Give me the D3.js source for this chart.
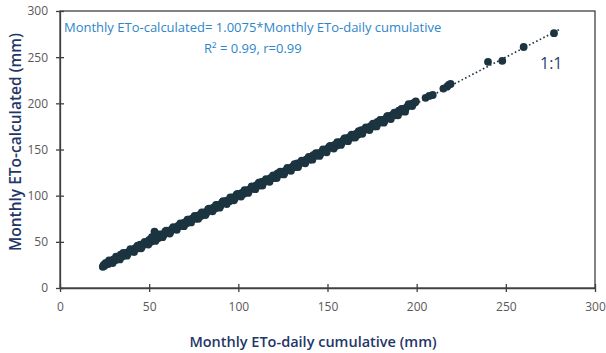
<!DOCTYPE html>
<html>
<head>
<meta charset="utf-8">
<script src="https://cdn.jsdelivr.net/npm/d3@7"></script>
<style>
  html, body { margin: 0; padding: 0; background: #fff; }
  svg { display: block; font-family: "Open Sans", sans-serif; }
</style>
</head>
<body>
<svg id="chart" width="606" height="353"></svg>
<script>
// data: [daily cumulative, calculated]
const points = [
  [24,23],[24.5,25],[25,24],[26,27],[27,26],[28,29],[29,28],[30,31],[31,30],[32,33],[33,32],[34,36],[35,34],
  [36,37],[37,38],[38,37],[39,40],[40,41],[41,40],[42,43],[43,44],[44,43],[45,47],[46,45],[47,48],[48,49],
  [49,48],[50,52],[51,50],[52,53],[53,61],[54,55],[55,54],[56,57],[57,58],[58,57],[59,61],[60,60],[61,62],
  [62,61],[63,64],[64,65],[65,64],[66,67],[67,68],[68,67],[69,70],[70,71],[71,70],[72,74],[73,73],[74,75],
  [75,76],[76,75],[77,78],[78,79],[79,78],[80,81],[81,82],[82,81],[83,85],[84,84],[85,86],[86,87],[87,86],
  [88,89],[89,90],[90,89],[91,93],[92,92],[93,94],[94,95],[95,94],[96,97],[97,98],[98,97],[99,101],[100,100],
  [101,102],[102,103],[103,102],[104,105],[105,106],[106,105],[107,108],[108,109],[109,108],[110,111],[111,112],
  [112,111],[113,115],[114,114],[115,116],[116,117],[117,116],[118,119],[119,120],[120,119],[121,122],[122,124],
  [123,123],[124,125],[125,126],[126,125],[127,128],[128,129],[129,128],[130,131],[131,132],[132,131],[133,135],
  [134,134],[135,136],[136,137],[137,136],[138,139],[139,140],[140,139],[141,142],[142,144],[143,143],[144,145],
  [145,146],[146,145],[147,148],[148,149],[149,148],[150,151],[151,153],[152,152],[153,154],[154,155],[155,154],
  [156,157],[157,158],[158,157],[159,160],[160,162],[161,161],[162,163],[163,164],[164,163],[165,166],[166,167],
  [167,166],[168,169],[169,171],[170,170],[171,172],[172,173],[173,172],[174,175],[175,176],[176,175],[177,178],
  [178,180],[179,179],[180,181],[181,182],[182,181],[183,184],[184,186],[185,185],[186,187],[187,188],[188,187],
  [189,190],[190,192],[191,191],[192,193],[193,194],[194,195],[195,197],[196,198],[197,199],[198,200],[199,201],
  [205,206],[207,208],[209,209],[215,216],[217,218],[218,220],[219,221],[240,245],[248,246],[260,261],[277,276]
];
// second pass of points spread round the line (the band is wide)
const pointsSpread = [
  [25.5,27],[27.5,30],[29.5,27],[31.5,34],[33.5,31],[35.5,38],[37.5,35],[39.5,42],[41.5,39],[43.5,46],[45.5,43],
  [47.5,50],[49.5,47],[51.5,55],[53.5,51],[55.5,58],[57.5,55],[59.5,62],[61.5,59],[63.5,66],[65.5,63],[67.5,70],
  [69.5,67],[71.5,74],[73.5,71],[75.5,78],[77.5,75],[79.5,82],[81.5,79],[83.5,86],[85.5,83],[87.5,90],[89.5,87],
  [91.5,94],[93.5,91],[95.5,98],[97.5,95],[99.5,102],[101.5,99],[103.5,106],[105.5,103],[107.5,110],[109.5,107],
  [111.5,114],[113.5,111],[115.5,118],[117.5,115],[119.5,122],[121.5,119],[123.5,126],[125.5,123],[127.5,130],
  [129.5,127],[131.5,134],[133.5,131],[135.5,138],[137.5,135],[139.5,142],[141.5,139],[143.5,146],[145.5,143],
  [147.5,150],[149.5,147],[151.5,154],[153.5,151],[155.5,158],[157.5,155],[159.5,162],[161.5,159],[163.5,166],
  [165.5,163],[167.5,170],[169.5,167],[171.5,174],[173.5,171],[175.5,178],[177.5,175],[179.5,182],[181.5,179],
  [183.5,186],[185.5,183],[187.5,190],[189.5,187],[191.5,194],[193.5,191],[195.5,199],[197.5,197],[199.5,202]
];
const xTicks = [0, 50, 100, 150, 200, 250, 300];
const yTicks = [0, 50, 100, 150, 200, 250, 300];
const fitLine = [[24, 24], [280, 280]];

const svg = d3.select('#chart');
const margin = { left: 60, right: 11, top: 11, bottom: 65 };
const W = 606, H = 353;

const x = d3.scaleLinear().domain([0, 300]).range([margin.left, W - margin.right]);
const y = d3.scaleLinear().domain([0, 300]).range([H - margin.bottom, margin.top]);

// frame
svg.append('rect')
  .attr('x', x(0)).attr('y', y(300))
  .attr('width', x(300) - x(0)).attr('height', y(0) - y(300))
  .attr('fill', 'none').attr('stroke', '#404040').attr('stroke-width', 1.3);

// axes (ticks cross the axis line)
const xAxis = svg.append('g')
  .attr('transform', `translate(0,${y(0)})`)
  .call(d3.axisBottom(x).tickValues(xTicks).tickSize(0).tickPadding(14));
xAxis.selectAll('.tick').append('line').attr('y1', -4).attr('y2', 4);

const yAxis = svg.append('g')
  .attr('transform', `translate(${x(0)},0)`)
  .call(d3.axisLeft(y).tickValues(yTicks).tickSize(0).tickPadding(12));
yAxis.selectAll('.tick').append('line').attr('x1', -4).attr('x2', 4);

svg.selectAll('.domain').attr('stroke', '#404040').attr('stroke-width', 1.3);
svg.selectAll('.tick line').attr('stroke', '#404040').attr('stroke-width', 1.3);
svg.selectAll('.tick text')
  .attr('fill', '#595959')
  .style('font-size', '12px')
  .style('font-family', '"Open Sans", sans-serif');

// dotted 1:1 line
svg.append('path')
  .attr('d', d3.line().x(d => x(d[0])).y(d => y(d[1]))(fitLine))
  .attr('fill', 'none')
  .attr('stroke', '#1b3440')
  .attr('stroke-width', 1.6)
  .attr('stroke-dasharray', '1.6,2.4');

// points
svg.append('g')
  .selectAll('circle')
  .data(points.concat(pointsSpread))
  .enter()
  .append('circle')
  .attr('cx', d => x(d[0]))
  .attr('cy', d => y(d[1]))
  .attr('r', 3.9)
  .attr('fill', '#1b3440');

// annotations
svg.append('text')
  .attr('x', 64).attr('y', 32)
  .attr('fill', '#2e86c9')
  .style('font-size', '13px')
  .text('Monthly ETo-calculated= 1.0075*Monthly ETo-daily cumulative');

svg.append('text')
  .attr('x', 204).attr('y', 53)
  .attr('fill', '#2e86c9')
  .style('font-size', '13px')
  .html('R<tspan>²</tspan> = 0.99, r=0.99');

svg.append('text')
  .attr('x', 540).attr('y', 69)
  .attr('fill', '#2c3f6e')
  .style('font-size', '16px')
  .text('1:1');

// axis titles
svg.append('text')
  .attr('x', 313).attr('y', 347)
  .attr('text-anchor', 'middle')
  .attr('fill', '#1f3767')
  .style('font-size', '14.5px')
  .style('font-weight', '600')
  .text('Monthly ETo-daily cumulative (mm)');

svg.append('text')
  .attr('transform', `translate(21,142) rotate(-90)`)
  .attr('text-anchor', 'middle')
  .attr('fill', '#1f3767')
  .style('font-size', '15.5px')
  .style('font-weight', '600')
  .text('Monthly ETo-calculated (mm)');
</script>
</body>
</html>
